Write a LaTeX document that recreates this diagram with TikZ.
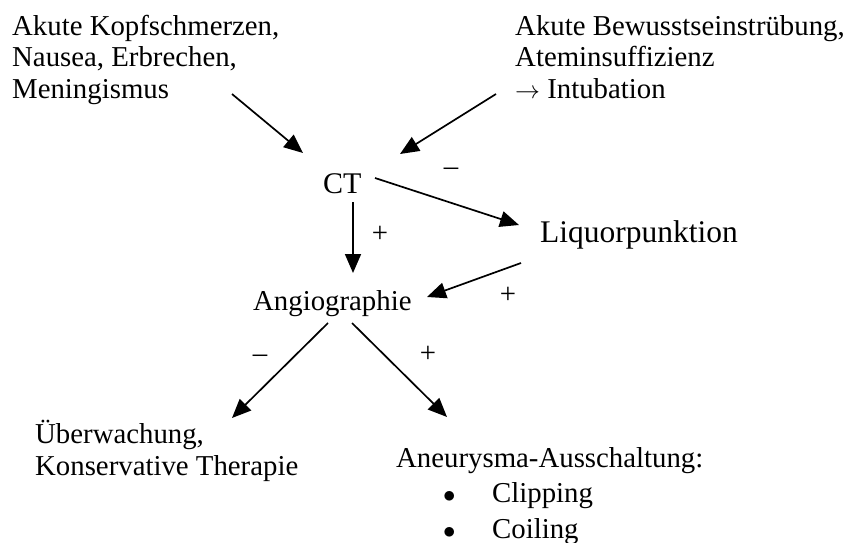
\documentclass[tikz,border=0pt]{standalone}
\usepackage{fontspec}
\setmainfont{Liberation Serif}
\usepackage{tikz}
\usetikzlibrary{arrows.meta,calc}

\begin{document}
\begin{tikzpicture}[x=1pt,y=1pt,yscale=-1,xscale=1,
  txt/.style={inner sep=0pt,align=left,font=\fontsize{28.8}{31.5}\selectfont},
  sgn/.style={inner sep=0pt,font=\fontsize{28.8}{31.5}\selectfont},
  arr/.style={line width=1.7pt,-{Triangle[length=19pt,width=16pt]}}]
\useasboundingbox (0,0) rectangle (854,543);

% Text Node
\node [txt,anchor=north west] (kopf) at (12,15) {Akute Kopfschmerzen,\\Nausea, Erbrechen,\\Meningismus};
% Text Node
\node [txt,anchor=north west] (bewusst) at (515,15) {Akute Bewusstseinstrübung,\\Ateminsuffizienz\\$\rightarrow$ Intubation};
% Text Node
\node [txt,anchor=base west,font=\fontsize{30}{33}\selectfont] (ct) at (323,193) {CT};
% Text Node
\node [txt,anchor=base west,font=\fontsize{31.5}{34}\selectfont] (liquor) at (540,242) {Liquorpunktion};
% Text Node
\node [txt,anchor=base west] (angio) at (253,310) {Angiographie};
% Text Node
\node [txt,anchor=north west] (ueber) at (35,420) {Überwachung,\\Konservative Therapie};
% Text Node
\node [txt,anchor=base west] (aneur) at (396,467) {Aneurysma-Ausschaltung:};
\node [txt,anchor=base west] (clip) at (443,502) {\makebox[49pt][l]{$\bullet$}Clipping};
\node [txt,anchor=base west] (coil) at (443,538) {\makebox[49pt][l]{$\bullet$}Coiling};

% Signs
\node [sgn] (minusliq) at (451,172) {\textendash};
\node [sgn] (plusct) at (380,234) {+};
\node [sgn] (plusliq) at (508,295) {+};
\node [sgn] (minusang) at (260,359) {\textendash};
\node [sgn] (plusang) at (428,354) {+};

%Arrows
\draw [arr] ($(kopf.north west)+(220,79)$) -- ($(ct.base west)+(-20,-40)$);
\draw [arr] ($(bewusst.north west)+(-19,79)$) -- ($(ct.base west)+(77,-39)$);
\draw [arr] ($(ct.base west)+(52,-15)$) -- ($(liquor.base west)+(-21,-17)$);
\draw [arr] ($(ct.base west)+(30,9)$) -- ($(angio.base west)+(100,-37)$);
\draw [arr] ($(liquor.base west)+(-19,21)$) -- ($(angio.base west)+(174,-13)$);
\draw [arr] ($(angio.base west)+(75,13)$) -- ($(ueber.north west)+(197,-2)$);
\draw [arr] ($(angio.base west)+(99,13)$) -- ($(aneur.base west)+(51,-50)$);

\end{tikzpicture}
\end{document}
